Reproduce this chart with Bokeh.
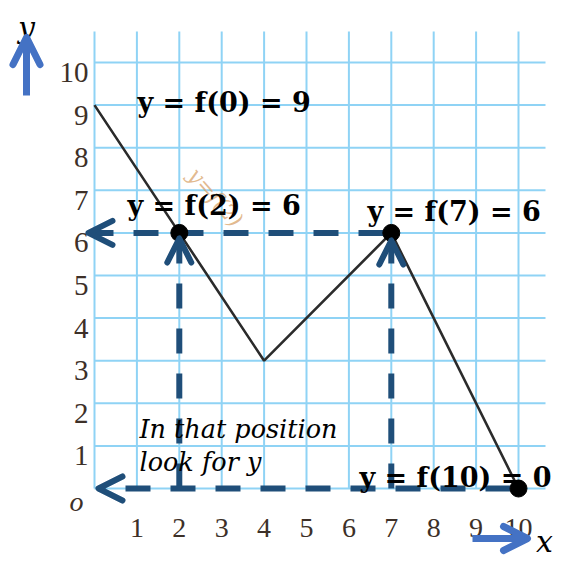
from bokeh.plotting import figure
from bokeh.models import Range1d, Arrow, OpenHead
from bokeh.core.properties import value
from bokeh.embed import file_html
from bokeh.resources import INLINE

# ---------------- data ----------------
f_x = [0, 2, 4, 7, 10]
f_y = [9, 6, 3, 6, 0]
pts_x = [2, 7, 10]
pts_y = [6, 6, 0]
eq_labels = ["y = f(0) = 9", "y = f(2) = 6", "y = f(7) = 6", "y = f(10) = 0"]
x_ticks = [1, 2, 3, 4, 5, 6, 7, 8, 9, 10]
y_ticks = [1, 2, 3, 4, 5, 6, 7, 8, 9, 10]
x_tick_labels = [str(v) for v in x_ticks]
y_tick_labels = [str(v) for v in y_ticks]
grid_x = [0, 1, 2, 3, 4, 5, 6, 7, 8, 9, 10]
grid_y = [0, 1, 2, 3, 4, 5, 6, 7, 8, 9, 10]
note_lines = ["In that position", "look for y"]
origin_label = ["o"]
axis_names = ["y", "x"]
ghost_label = ["y=f(2)"]

# ---------------- layout (picture pixel -> data helpers) ----------------
W, H = 573, 561
X0, Y0, SX, SY = 94.0, 488.0, 42.4, 42.6


def dx(px):
    return (px - X0) / SX


def dy(py):
    return (Y0 - py) / SY


GRID = "#8fd3f5"
NAVY = "#1f4e79"
BLUE = "#4472c4"
TICKC = "#3d3028"

p = figure(width=W, height=H, output_backend="svg", toolbar_location=None,
           x_range=Range1d(dx(0), dx(W)), y_range=Range1d(dy(H), dy(0)),
           min_border=0, min_border_left=0, min_border_right=0,
           min_border_top=0, min_border_bottom=0)
p.axis.visible = False
p.grid.visible = False
p.outline_line_color = None
p.background_fill_color = "white"

# grid
p.segment(x0=grid_x, y0=[0] * len(grid_x), x1=grid_x, y1=[dy(31)] * len(grid_x),
          line_color=GRID, line_width=2)
p.segment(x0=[0] * len(grid_y), y0=grid_y, x1=[dx(545)] * len(grid_y), y1=grid_y,
          line_color=GRID, line_width=2)

# faint ghost annotation
p.text(x=[dx(215)], y=[dy(197)], text=ghost_label, angle=-0.85,
       text_font=value("DejaVu Serif"), text_font_style="italic",
       text_font_size="22px", text_align="center", text_baseline="middle",
       text_color="#d9a36a", text_alpha=0.75)

# function polyline
p.line(f_x, f_y, line_color="#2b2b2b", line_width=2.6)

# dashed guide lines
dash = "25 20"
p.line([dx(88), pts_x[1]], [pts_y[0], pts_y[1]], line_color=NAVY, line_width=6,
       line_dash=dash)
p.line([pts_x[0], pts_x[0]], [0, dy(238)], line_color=NAVY, line_width=6, line_dash=dash)
p.line([pts_x[1], pts_x[1]], [0, dy(240)], line_color=NAVY, line_width=6, line_dash=dash)
p.line([dx(98), pts_x[2]], [pts_y[2], pts_y[2]], line_color=NAVY, line_width=6,
       line_dash=dash, line_dash_offset=18)


def head(size, lw, color):
    return OpenHead(size=size, line_width=lw, line_color=color,
                    line_cap="round", line_join="round")


# navy arrow heads (no body)
p.add_layout(Arrow(end=head(24, 6, NAVY), x_start=dx(120), y_start=pts_y[0],
                   x_end=dx(88), y_end=pts_y[0], line_alpha=0))
p.add_layout(Arrow(end=head(24, 6, NAVY), x_start=dx(100), y_start=pts_y[2],
                   x_end=dx(98), y_end=pts_y[2], line_alpha=0))
p.add_layout(Arrow(end=head(24, 6, NAVY), x_start=pts_x[0], y_start=dy(270),
                   x_end=pts_x[0], y_end=dy(238), line_alpha=0))
p.add_layout(Arrow(end=head(24, 6, NAVY), x_start=pts_x[1], y_start=dy(272),
                   x_end=pts_x[1], y_end=dy(240), line_alpha=0))

# points
p.scatter(pts_x, pts_y, size=17, color="black")

# blue axis arrows
p.add_layout(Arrow(end=head(27, 7, BLUE), x_start=dx(26), y_start=dy(95),
                   x_end=dx(26), y_end=dy(37), line_color=BLUE, line_width=7))
p.add_layout(Arrow(end=head(24, 7, BLUE), x_start=dx(472), y_start=dy(538),
                   x_end=dx(527), y_end=dy(538), line_color=BLUE, line_width=7))

# axis names
p.text(x=[dx(26), dx(544)], y=[dy(27), dy(541)], text=axis_names,
       text_font=value("DejaVu Serif"), text_font_style="italic",
       text_font_size="30px", text_align="center", text_baseline="alphabetic",
       text_color="black")

# tick labels
p.text(x=x_ticks, y=[dy(527)] * len(x_ticks), text=x_tick_labels,
       text_font=value("Liberation Serif"), text_font_size="28px",
       text_align="center", text_baseline="alphabetic", text_color=TICKC)
p.text(x=[dx(88)] * len(y_ticks), y=[v - 10 / SY for v in y_ticks], text=y_tick_labels,
       text_font=value("Liberation Serif"), text_font_size="29px",
       text_align="right", text_baseline="alphabetic", text_color=TICKC)
p.text(x=[dx(76)], y=[dy(501)], text=origin_label,
       text_font=value("Liberation Serif"), text_font_style="italic",
       text_font_size="28px", text_align="center", text_baseline="alphabetic",
       text_color=TICKC)

# equation labels
p.text(x=[dx(137), dx(127), dx(367), dx(359)],
       y=[dy(102), dy(205), dy(211), dy(477)], text=eq_labels,
       text_font=value("DejaVu Serif"), text_font_style="bold",
       text_font_size="27px", text_align="left", text_baseline="alphabetic",
       text_color="black")

# note
p.text(x=[dx(139), dx(139)], y=[dy(428), dy(461)], text=note_lines,
       text_font=value("DejaVu Serif"), text_font_style="italic",
       text_font_size="25.5px", text_align="left", text_baseline="alphabetic",
       text_color="black")

open("out.html", "w").write(file_html(p, INLINE))
